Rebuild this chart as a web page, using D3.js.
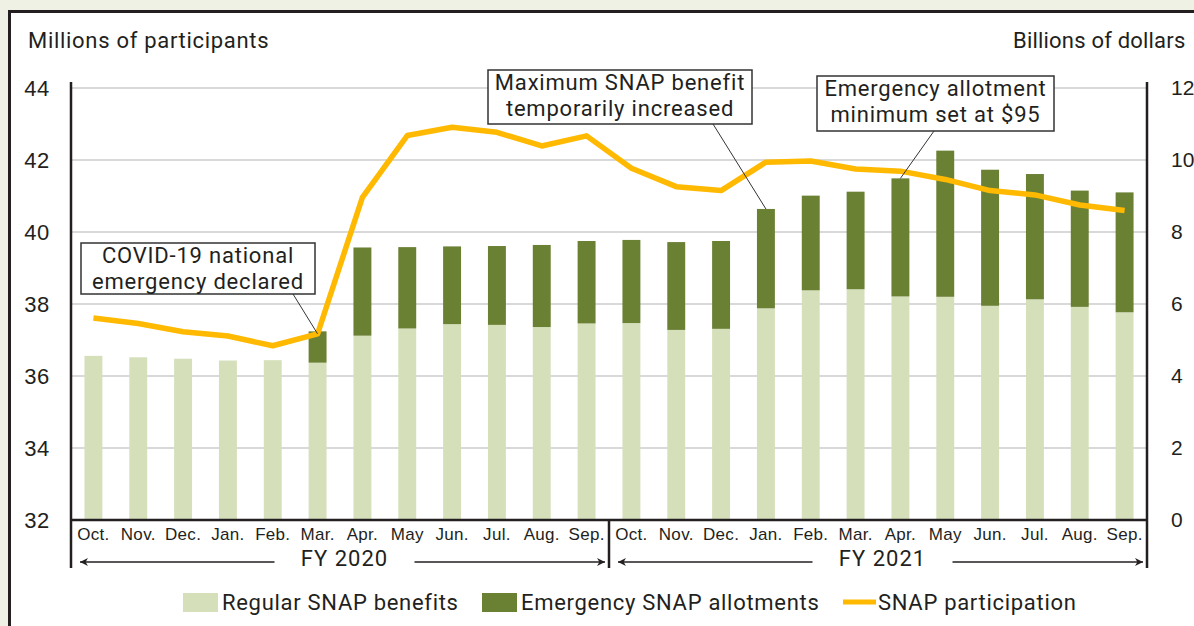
<!DOCTYPE html>
<html>
<head>
<meta charset="utf-8">
<script src="https://cdn.jsdelivr.net/npm/d3@7"></script>
<style>
    body { margin: 0; background: #f0f1e5; }
    svg { display: block; font-family: Roboto, "Liberation Sans", sans-serif; }
    text { fill: #231f20; letter-spacing: 0.7px; }
    .grid line { stroke: #cdcdcd; stroke-width: 1.5; }
    .frame { stroke: #231f20; stroke-width: 2.5; }
    .tick text { font-size: 22px; }
    .right .tick text { font-size: 21px; letter-spacing: 0; }
    .xlabels .tick text { font-size: 17px; letter-spacing: 0.3px; }
    .note rect { fill: #fff; stroke: #333; stroke-width: 1.5; }
    .note text { font-size: 22px; text-anchor: middle; letter-spacing: 0.8px; }
    .leader { stroke: #333; stroke-width: 1; }
</style>
</head>
<body>
<svg id="chart" width="1194" height="626"></svg>
<script>
var months = ["Oct.", "Nov.", "Dec.", "Jan.", "Feb.", "Mar.", "Apr.", "May", "Jun.", "Jul.", "Aug.", "Sep.",
              "Oct.", "Nov.", "Dec.", "Jan.", "Feb.", "Mar.", "Apr.", "May", "Jun.", "Jul.", "Aug.", "Sep."];
var fiscalYears = ["FY 2020", "FY 2021"];
// billions of dollars
var regularBenefits = [4.56, 4.52, 4.48, 4.43, 4.44, 4.37, 5.12, 5.32, 5.44, 5.42, 5.36, 5.46,
                       5.47, 5.28, 5.31, 5.88, 6.38, 6.41, 6.21, 6.20, 5.95, 6.13, 5.92, 5.77];
var emergencyAllotments = [0, 0, 0, 0, 0, 0.87, 2.45, 2.26, 2.16, 2.19, 2.28, 2.29,
                           2.31, 2.44, 2.44, 2.76, 2.63, 2.71, 3.28, 4.06, 3.78, 3.48, 3.23, 3.33];
// millions of participants
var participation = [37.61, 37.46, 37.23, 37.11, 36.84, 37.17, 40.96, 42.68, 42.91, 42.77, 42.39, 42.67,
                     41.77, 41.26, 41.15, 41.94, 41.97, 41.75, 41.69, 41.46, 41.15, 41.03, 40.75, 40.60];
var leftTicks = [32, 34, 36, 38, 40, 42, 44];
var rightTicks = [0, 2, 4, 6, 8, 10, 12];

var margin = { top: 88, left: 71 },
    width = 1076,
    height = 432;

var svg = d3.select("#chart");

// white panel
svg.append("rect")
    .attr("x", 9.5).attr("y", 11.5)
    .attr("width", 1200).attr("height", 640)
    .attr("fill", "#fff")
    .attr("stroke", "#231f20")
    .attr("stroke-width", 3);

var g = svg.append("g")
    .attr("transform", "translate(" + margin.left + "," + margin.top + ")");

var x = d3.scaleBand()
    .domain(d3.range(months.length))
    .range([0, width])
    .paddingInner(0.6)
    .paddingOuter(0.3);

var yLeft = d3.scaleLinear().domain([32, 44]).range([height, 0]);
var yRight = d3.scaleLinear().domain([0, 12]).range([height, 0]);

// gridlines
g.append("g")
    .attr("class", "grid")
    .selectAll("line")
    .data(leftTicks.slice(1))
    .enter().append("line")
    .attr("x1", 0)
    .attr("x2", width)
    .attr("y1", function(d) { return yLeft(d); })
    .attr("y2", function(d) { return yLeft(d); });

// stacked bars
var rows = months.map(function(m, i) {
    return { i: i, regular: regularBenefits[i], emergency: emergencyAllotments[i] };
});
var stack = d3.stack().keys(["regular", "emergency"])(rows);
var colors = { regular: "#d5e0bb", emergency: "#6a8033" };

g.selectAll(".series")
    .data(stack)
    .enter().append("g")
    .attr("class", "series")
    .attr("fill", function(s) { return colors[s.key]; })
    .selectAll("rect")
    .data(function(s) { return s.filter(function(d) { return d[1] - d[0] > 0; }); })
    .enter().append("rect")
    .attr("x", function(d) { return x(d.data.i); })
    .attr("width", x.bandwidth())
    .attr("y", function(d) { return yRight(d[1]); })
    .attr("height", function(d) { return yRight(d[0]) - yRight(d[1]); });

// participation line
var line = d3.line()
    .x(function(d, i) { return x(i) + x.bandwidth() / 2; })
    .y(function(d) { return yLeft(d); });

g.append("path")
    .datum(participation)
    .attr("d", line)
    .attr("fill", "none")
    .attr("stroke", "#ffb900")
    .attr("stroke-width", 5.5)
    .attr("stroke-linejoin", "round");

// axes
var leftAxis = g.append("g")
    .call(d3.axisLeft(yLeft).tickValues(leftTicks).tickSize(0).tickPadding(21));
leftAxis.select(".domain").remove();

var rightAxis = g.append("g")
    .attr("class", "right")
    .attr("transform", "translate(" + width + ",0)")
    .call(d3.axisRight(yRight).tickValues(rightTicks).tickSize(0).tickPadding(24));
rightAxis.select(".domain").remove();

var xAxis = g.append("g")
    .attr("class", "xlabels")
    .attr("transform", "translate(0," + height + ")")
    .call(d3.axisBottom(x).tickSize(0).tickPadding(6).tickFormat(function(i) { return months[i]; }));
xAxis.select(".domain").remove();
xAxis.selectAll("text").attr("dy", "0.85em");

g.append("line").attr("class", "frame")
    .attr("x1", 0).attr("x2", width).attr("y1", height).attr("y2", height);
[0, width].forEach(function(px) {
    g.append("line").attr("class", "frame")
        .attr("x1", px).attr("x2", px).attr("y1", -6).attr("y2", height + 48);
});
g.append("line").attr("class", "frame")
    .attr("x1", x.step() * 12).attr("x2", x.step() * 12)
    .attr("y1", height).attr("y2", height + 48);

// axis titles
svg.append("text").attr("x", 28).attr("y", 48).attr("font-size", 22).text("Millions of participants");
svg.append("text").attr("x", 1013).attr("y", 48).attr("font-size", 22)
    .style("letter-spacing", "0.2px").text("Billions of dollars");

// fiscal year brackets
svg.append("defs").append("marker")
    .attr("id", "arrow")
    .attr("viewBox", "0 0 10 10")
    .attr("refX", 10).attr("refY", 5)
    .attr("markerWidth", 16).attr("markerHeight", 8)
    .attr("markerUnits", "userSpaceOnUse")
    .attr("orient", "auto")
    .append("path")
    .attr("d", "M0,0L10,5L0,10L3,5Z")
    .attr("fill", "#231f20");

fiscalYears.forEach(function(fy, k) {
    var x0 = x.step() * 12 * k + 9,
        x1 = x.step() * 12 * (k + 1) - 4,
        cx = (x0 + x1) / 2 + 2,
        yy = height + 42;
    g.append("text")
        .attr("x", cx).attr("y", height + 46)
        .attr("text-anchor", "middle")
        .attr("font-size", 22)
        .style("letter-spacing", "1px")
        .text(fy);
    g.append("line")
        .attr("x1", cx - 70).attr("x2", x0).attr("y1", yy).attr("y2", yy)
        .attr("stroke", "#231f20").attr("stroke-width", 1.3)
        .attr("marker-end", "url(#arrow)");
    g.append("line")
        .attr("x1", cx + 70).attr("x2", x1).attr("y1", yy).attr("y2", yy)
        .attr("stroke", "#231f20").attr("stroke-width", 1.3)
        .attr("marker-end", "url(#arrow)");
});

// annotations
function note(lines, box, from, target) {
    svg.append("line")
        .attr("class", "leader")
        .attr("x1", from[0]).attr("y1", from[1])
        .attr("x2", target[0]).attr("y2", target[1]);
    var n = svg.append("g").attr("class", "note");
    n.append("rect")
        .attr("x", box[0]).attr("y", box[1])
        .attr("width", box[2]).attr("height", box[3]);
    lines.forEach(function(t, j) {
        n.append("text")
            .attr("x", box[0] + box[2] / 2)
            .attr("y", box[1] + 20 + j * 26)
            .text(t);
    });
}
function barCenter(i) { return margin.left + x(i) + x.bandwidth() / 2; }

note(["COVID-19 national", "emergency declared"], [81, 243, 234, 51], [293, 294],
     [barCenter(5), margin.top + yLeft(participation[5])]);
note(["Maximum SNAP benefit", "temporarily increased"], [488, 70, 264, 54], [713, 124],
     [barCenter(15), margin.top + yRight(regularBenefits[15] + emergencyAllotments[15])]);
note(["Emergency allotment", "minimum set at $95"], [817, 76, 237, 55], [934, 131],
     [barCenter(18), margin.top + yRight(regularBenefits[18] + emergencyAllotments[18])]);

// legend
var legend = svg.append("g").attr("font-size", 22);
legend.append("rect").attr("x", 183).attr("y", 593).attr("width", 35).attr("height", 19).attr("fill", colors.regular);
legend.append("text").attr("x", 222).attr("y", 610).text("Regular SNAP benefits");
legend.append("rect").attr("x", 482).attr("y", 593).attr("width", 35).attr("height", 19).attr("fill", colors.emergency);
legend.append("text").attr("x", 521).attr("y", 610).text("Emergency SNAP allotments");
legend.append("line").attr("x1", 843).attr("x2", 876).attr("y1", 602).attr("y2", 602)
    .attr("stroke", "#ffb900").attr("stroke-width", 5);
legend.append("text").attr("x", 878).attr("y", 610).text("SNAP participation");
</script>
</body>
</html>
